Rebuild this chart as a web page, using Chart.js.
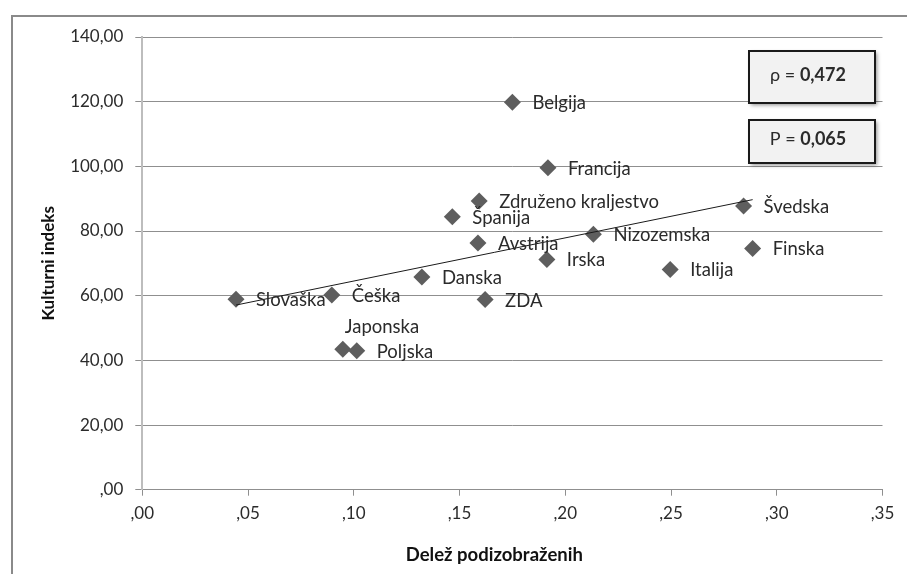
<!DOCTYPE html>
<html>
<head>
<meta charset="utf-8">
<script src="https://cdn.jsdelivr.net/npm/chart.js@4"></script>
<style>
  html, body { margin: 0; padding: 0; background: #fff; }
</style>
</head>
<body>
<canvas id="kulturni-chart" width="907" height="574"></canvas>
<script>
const countries = ['Slovaška', 'Češka', 'Japonska', 'Poljska', 'Danska', 'Španija', 'Združeno kraljestvo', 'Avstrija',
  'ZDA', 'Belgija', 'Francija', 'Irska', 'Nizozemska', 'Italija', 'Švedska', 'Finska']
const delez = [0.0443, 0.0896, 0.0948, 0.1014, 0.1322, 0.1466, 0.1593, 0.1587,
  0.1621, 0.1750, 0.1918, 0.1913, 0.2133, 0.2496, 0.2843, 0.2886]
const indeks = [58.9, 60.2, 43.4, 43.0, 65.8, 84.4, 89.3, 76.3,
  58.8, 119.8, 99.6, 71.2, 79.0, 68.1, 87.7, 74.6]
const trendX = [0.0443, 0.2886]
const trendY = [57.1, 89.7]
const xTitle = 'Delež podizobraženih'
const yTitle = 'Kulturni indeks'
const rhoText = ['ρ = ', '0,472']
const pText = ['P = ', '0,065']

const fontFamily = 'Lato, "Open Sans", sans-serif'
const textColor = '#2b2b2b'

// 0.05 -> ",05", 140 -> "140,00"
const fmt = (v, digits) => {
  let s = v.toFixed(digits).replace('.', ',')
  return s.startsWith('0,') ? s.slice(1) : s
}

const labelShift = { 'Japonska': [2, -22] }

const pointLabels = {
  id: 'pointLabels',
  afterDatasetsDraw(chart) {
    const ctx = chart.ctx
    const meta = chart.getDatasetMeta(1)
    ctx.save()
    ctx.font = '18.5px ' + fontFamily
    ctx.fillStyle = textColor
    ctx.textBaseline = 'middle'
    ctx.textAlign = 'left'
    meta.data.forEach((pt, i) => {
      const name = countries[i]
      const [dx, dy] = labelShift[name] || [20, 1]
      ctx.fillText(name, pt.x + dx, pt.y + dy)
    })
    ctx.restore()
  }
}

const frameAndBoxes = {
  id: 'frameAndBoxes',
  beforeDraw(chart) {
    const ctx = chart.ctx
    ctx.save()
    ctx.strokeStyle = '#8a8a8a'
    ctx.lineWidth = 2
    ctx.beginPath()
    ctx.moveTo(12, 574)
    ctx.lineTo(12, 16)
    ctx.lineTo(907, 16)
    ctx.stroke()
    ctx.restore()
  },
  afterDraw(chart) {
    const ctx = chart.ctx
    // x axis title sits a bit left of the plot centre, like in Excel
    ctx.save()
    ctx.font = 'bold 18.5px ' + fontFamily
    ctx.fillStyle = '#111'
    ctx.textAlign = 'center'
    ctx.textBaseline = 'middle'
    ctx.fillText(xTitle, chart.chartArea.left + 352, 555)
    ctx.restore()

    const box = (x, y, w, h, parts) => {
      ctx.save()
      ctx.shadowColor = 'rgba(0,0,0,0.45)'
      ctx.shadowBlur = 4
      ctx.shadowOffsetX = 2
      ctx.shadowOffsetY = 2
      ctx.fillStyle = '#f2f2f2'
      ctx.fillRect(x, y, w, h)
      ctx.restore()
      ctx.save()
      ctx.strokeStyle = '#1a1a1a'
      ctx.lineWidth = 2
      ctx.strokeRect(x, y, w, h)
      ctx.textBaseline = 'middle'
      ctx.fillStyle = textColor
      const fonts = ['18px ' + fontFamily, 'bold 18px ' + fontFamily]
      let total = 0
      parts.forEach((p, i) => { ctx.font = fonts[i]; total += ctx.measureText(p).width })
      let tx = x + w / 2 - total / 2 - 4
      parts.forEach((p, i) => {
        ctx.font = fonts[i]
        ctx.fillText(p, tx, y + h / 2 - 2)
        tx += ctx.measureText(p).width
      })
      ctx.restore()
    }
    box(749, 51, 126, 52, rhoText)
    box(749, 120, 126, 43, pText)
  }
}

Chart.defaults.font.family = fontFamily
Chart.defaults.color = textColor

const ctx = document.getElementById('kulturni-chart').getContext('2d')
const kulturniChart = new Chart(ctx, {
  type: 'scatter',
  data: {
    datasets: [{
      type: 'line',
      data: trendX.map((x, i) => ({ x: x, y: trendY[i] })),
      borderColor: '#1a1a1a',
      borderWidth: 1,
      pointRadius: 0,
      fill: false,
      order: 0
    }, {
      data: delez.map((x, i) => ({ x: x, y: indeks[i] })),
      pointStyle: 'rectRot',
      pointRadius: 8.5,
      backgroundColor: '#5e5e5e',
      borderColor: '#5e5e5e',
      borderWidth: 0,
      order: 1
    }]
  },
  options: {
    responsive: false,
    animation: false,
    devicePixelRatio: 1,
    layout: { padding: { left: 0, top: 37, right: 24.5, bottom: 0 } },
    plugins: { legend: { display: false }, tooltip: { enabled: false } },
    scales: {
      x: {
        type: 'linear',
        min: 0,
        max: 0.35,
        afterFit: (scale) => { scale.height = 84.3 },
        afterBuildTicks: (scale) => {
          scale.ticks = [0, 0.05, 0.1, 0.15, 0.2, 0.25, 0.3, 0.35].map(v => ({ value: v }))
        },
        ticks: {
          font: { size: 17 },
          color: textColor,
          padding: 8,
          maxRotation: 0,
          callback: (v) => fmt(v, 2)
        },
        grid: { drawOnChartArea: false, drawTicks: true, tickLength: 6, color: '#8f8f8f' },
        border: { color: '#8f8f8f', width: 1 }
      },
      y: {
        min: 0,
        max: 140,
        afterFit: (scale) => { scale.width = 142.3 },
        ticks: {
          stepSize: 20,
          font: { size: 17 },
          color: textColor,
          padding: 12,
          callback: (v) => fmt(v, 2)
        },
        grid: { tickLength: 7, color: '#8f8f8f', lineWidth: 1 },
        border: { color: '#bdbdbd', width: 2 },
        title: {
          display: true,
          text: yTitle,
          font: { size: 17, weight: 'bold' },
          color: '#111',
          padding: { top: 38, bottom: 0 }
        }
      }
    }
  },
  plugins: [frameAndBoxes, pointLabels]
})
</script>
</body>
</html>
